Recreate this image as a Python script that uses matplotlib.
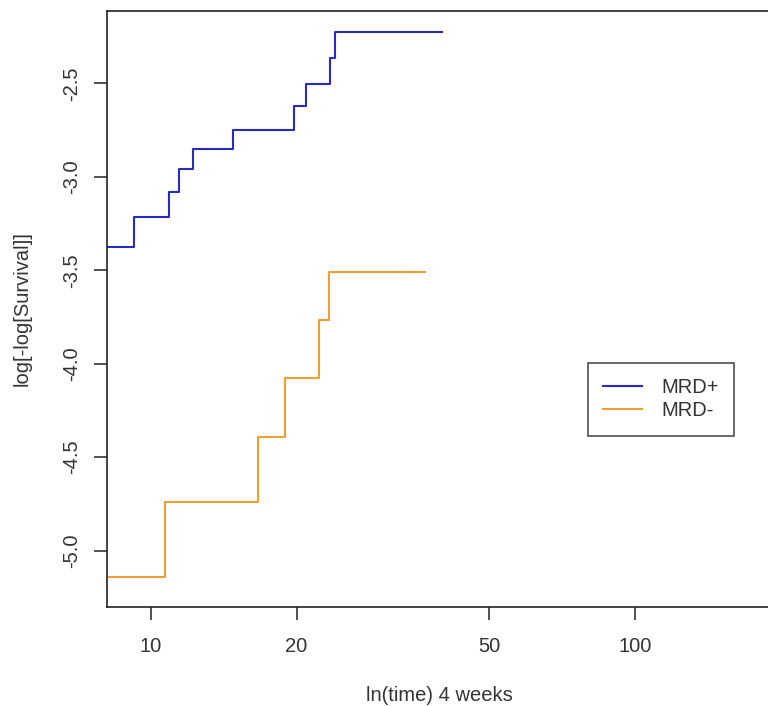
import numpy as np
import matplotlib
matplotlib.use('Agg')
import matplotlib.pyplot as plt

plt.rcParams['font.family'] = ['Liberation Sans', 'DejaVu Sans']

# log-log survival curves
time_pos = [8.1, 9.22, 10.93, 11.46, 12.25, 14.77, 19.75, 20.94, 23.43, 24.03, 39.9]
cll_pos = [-3.374, -3.217, -3.080, -2.960, -2.852, -2.750, -2.621, -2.502, -2.363, -2.227, -2.227]

time_neg = [8.1, 10.68, 16.65, 18.95, 22.21, 23.28, 36.77]
cll_neg = [-5.143, -4.742, -4.391, -4.078, -3.768, -3.511, -3.511]

labels = ['MRD+', 'MRD-']
colors = ['#2a2ac0', '#f0a030']
xticks = [10, 20, 50, 100]
yticks = [-5.0, -4.5, -4.0, -3.5, -3.0, -2.5]

fs = 14.5

fig = plt.figure(figsize=(7.68, 7.06), dpi=100)
ax = fig.add_axes([107.3 / 768, 99.3 / 706, (772 - 107.3) / 768, 595.7 / 706])

ax.step(time_pos, cll_pos, where='post', color=colors[0], lw=1.5, label=labels[0])
ax.step(time_neg, cll_neg, where='post', color=colors[1], lw=1.5, label=labels[1])

ax.set_xscale('log')
ax.set_xlim(8.136, 191.5)
ax.set_ylim(-5.300, -2.113)
ax.set_xticks(xticks)
ax.set_xticklabels([str(t) for t in xticks])
ax.xaxis.set_minor_locator(matplotlib.ticker.NullLocator())
ax.set_yticks(yticks)
ax.set_yticklabels(['%.1f' % v for v in yticks])

for side in ['left', 'bottom', 'top', 'right']:
    ax.spines[side].set_linewidth(1.2)
    ax.spines[side].set_color('#222222')
ax.tick_params(axis='both', length=9.5, width=1.1, labelsize=fs, color='#222222', labelcolor='#333333')
ax.tick_params(axis='x', pad=12)
ax.tick_params(axis='y', pad=9, labelrotation=90)
for t in ax.get_yticklabels():
    t.set_va('center')

ax.set_xlabel('ln(time) 4 weeks', fontsize=fs, color='#333333', labelpad=22)
ax.set_ylabel('log[-log[Survival]]', fontsize=fs, color='#333333', labelpad=22)

leg = ax.legend(loc='upper left', bbox_to_anchor=((588.3 - 107.3) / 664.7, (606.7 - 363.3) / 595.7),
                fontsize=fs, frameon=True, fancybox=False, edgecolor='#222222',
                handlelength=1.94, handletextpad=0.93, borderpad=0.75, labelspacing=0.2,
                borderaxespad=0)
leg.get_frame().set_linewidth(1.2)
for t in leg.get_texts():
    t.set_color('#333333')

fig.savefig('out.png', dpi=100)
